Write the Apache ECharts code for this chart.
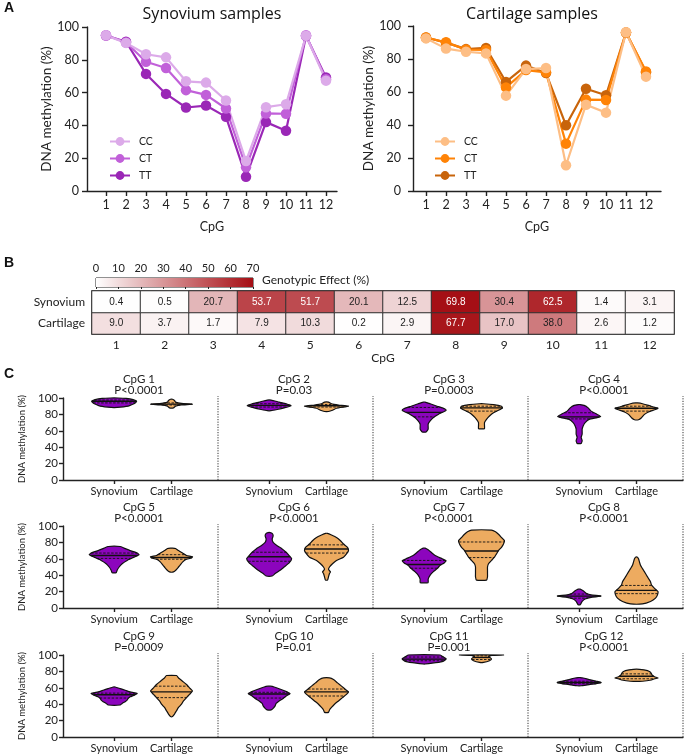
<!DOCTYPE html>
<html><head><meta charset="utf-8">
<script src="https://cdn.jsdelivr.net/npm/echarts@6/dist/echarts.min.js"></script>
<style>html,body{margin:0;padding:0;background:#fff}#c{width:685px;height:755px}</style>
</head><body><div id="c"></div>
<script>
// ---------- DATA ----------
const cpgs = [1,2,3,4,5,6,7,8,9,10,11,12];
const genotypes = ['CC','CT','TT'];
const synCC  = [94.9,90.3,83.4,81.5,66.9,66.1,55.2,18.3,51.1,52.9,94.7,67.3];
const synCT  = [95.0,90.5,78.8,75.0,61.5,58.6,50.3,14.5,47.3,47.1,95.0,68.2];
const synTT  = [94.8,91.0,71.4,59.2,50.9,52.1,45.2,8.7,42.0,36.7,94.5,69.2];
const cartCC = [92.5,86.3,84.4,83.4,57.8,73.9,74.5,15.6,52.3,47.5,96.2,69.3];
const cartCT = [93.0,90.1,85.7,85.5,62.8,73.3,71.9,28.7,55.4,55.2,96.0,72.5];
const cartTT = [93.0,89.9,86.0,86.7,66.1,76.0,71.5,39.8,62.0,58.0,96.0,72.0];

const tissues = ['Synovium','Cartilage'];
const effectSyn  = [0.4,0.5,20.7,53.7,51.7,20.1,12.5,69.8,30.4,62.5,1.4,3.1];
const effectCart = [9.0,3.7,1.7,7.9,10.3,0.2,2.9,67.7,17.0,38.0,2.6,1.2];
const effectTicks = [0,10,20,30,40,50,60,70];

const pLabels = ['P<0.0001','P=0.03','P=0.0003','P<0.0001','P<0.0001','P<0.0001',
                 'P<0.0001','P<0.0001','P=0.0009','P=0.01','P=0.001','P<0.0001'];
// violin profiles: [methylation %, relative half-width (density)]
const synProfiles = [
  [[88.5,3],[90,14],[92,18],[94,21],[96,22.5],[98,19],[99.5,12],[100,4]],
  [[84.5,2],[86,8],[88,15],[90.5,22],[93,17],[95,10],[97.5,2]],
  [[58.5,2],[62,4],[68,4],[72,6],[76,9],[80,14],[83,19],[85,22],[87,20],[90,13],[93,6],[95,1]],
  [[44.5,2],[48,3],[52,2],[56,3],[62,3],[66,4],[70,6],[74,10],[76,18],[77.5,21.5],[80,18],[84,12],[88,9],[91,5],[92,1]],
  [[43,2],[46,3],[50,5],[54,8],[58,13],[62,20],[65,25],[67,23],[70,16],[73,10],[75,6]],
  [[39,3],[42,6],[46,11],[50,15],[55,20],[60,22.5],[64,20],[68,17],[72,13],[76,8],[80,4],[84,3],[88,4],[91,3],[92,1]],
  [[31,4],[35,4],[40,6],[44,9],[48,13],[52,16],[55,20],[57.5,22],[60,18],[64,11],[68,7],[71,4],[73,1]],
  [[4,1],[8,3],[11,6],[13,12],[14.5,22],[16,12],[18,7],[21,4],[23,1]],
  [[39,6],[41,8],[43,11],[45,13],[47,14],[49,16],[51,20],[53,23],[55,16],[57,11],[59,6],[61,1]],
  [[33,2],[35,4],[38,6],[41,7],[44,10],[47,14],[50,17],[53,21],[55,18],[58,12],[61,5],[62,1]],
  [[89,1],[90,8],[92,18],[94,21],[95.5,22],[97,20],[98.5,18],[100,16]],
  [[62.5,2],[63.5,8],[65,17],[66.5,22],[68,17],[70,10],[72,4],[72.5,1]]
];
const synQuartiles = [
  [94,96,97.5],[89,91,93],[77,82.5,88.5],[74.5,77,82],[60.5,64,67],[57,62.5,68],
  [48.5,53,58],[12,14.5,17],[47.5,51.5,53.5],[47.5,52.5,54.5],[93,95,97.5],[65,66.5,68]
];
const cartProfiles = [
  [[88,2],[90,4],[91.5,10],[92.5,21],[93.5,10],[95,4],[97,3],[98.5,1]],
  [[83.5,2],[85,6],[87.5,10],[90,22],[91.5,12],[93,5],[95,2]],
  [[62.5,3],[66,3],[70,3],[74,5],[78,8],[82,12],[85,17],[88,21],[90,20],[92,12],[93,2]],
  [[73.5,2],[76,5],[80,8],[83,12],[86,19],[87.5,21.5],[89,17],[91,12],[93,6],[94,1]],
  [[44,2],[47,5],[50,7],[53,9],[56,11],[59,14],[61,20],[62.5,21],[64,15],[67,11],[70,7],[72.5,4],[73,1]],
  [[34,1],[38,2],[42,3],[44,4],[47,2],[50,3],[54,6],[58,10],[62,17],[66,20],[70,22],[74,21],[78,17],[82,14],[86,10],[89,5],[91,1]],
  [[34,5],[38,6],[42,6],[46,6],[50,6],[54,7],[58,10],[62,13],[66,15],[70,17],[74,20],[78,22],[82,23],[86,20],[90,17],[93,14],[95,10]],
  [[5,6],[8,14],[12,19],[16,21],[20,21.5],[24,18],[28,15],[32,14],[36,12],[40,10],[44,8],[48,6],[52,4],[56,3],[60,2],[62,1]],
  [[25,1],[28,3],[32,5],[36,7],[40,10],[44,12],[48,15],[52,18],[56,21],[60,18],[64,15],[68,11],[72,7],[75,5]],
  [[30,2],[33,3],[36,5],[40,8],[44,12],[48,16],[52,20],[55,22],[58,19],[62,15],[66,11],[70,7],[72,3]],
  [[91,2],[93,8],[95,10],[96.5,9],[98,7],[99.5,10],[100,22]],
  [[68,6],[69.5,15],[71,18],[72,21.7],[73.5,18],[75,16],[77,15],[79,14],[81,11],[82.5,3]]
];
const cartQuartiles = [
  [91.5,92.5,94],[89,90.5,92],[84,88,90],[84,87.5,90],[59.5,61.5,65],[67,72,77],
  [61.5,69.5,80.5],[17.5,21.5,27.5],[48,55,62],[50,55,58.5],[94.5,97,99],[71,74,77]
];

// ---------- STYLE / LAYOUT ----------
const FONT = 'Lato';
const TXT = '#222';
const synColors  = ['#dcaae9','#c160d9','#9a27b6'];
const cartColors = ['#fdbe85','#ff8306','#c8640b'];
const heatColors = ['#ffffff','#e0adaf','#c45c60','#a50e14'];
const SYN_FILL = '#8c05bd', CART_FILL = '#edab60';
const SYN_POS = 0.33, CART_POS = 0.70, WS = 1/155;
const rowTops = [398, 526, 655], ROW_H = 82;

const chart = echarts.init(document.getElementById('c'));

const grids = [
  {left:87, top:27, width:250, height:164},   // 0 A left
  {left:413, top:26, width:248, height:165},  // 1 A right
  {left:96, top:278, width:157, height:9, show:true, borderColor:'#222', borderWidth:1}, // 2 colorbar
  {left:92, top:291, width:582, height:43, show:true, borderColor:'#222', borderWidth:1.5}, // 3 heatmap
];
rowTops.forEach(t => grids.push({left:63, top:t, width:620, height:ROW_H}));

const axLine = {show:true, lineStyle:{color:TXT, width:1.4}};
function lineX(min, max) {
  return {type:'value', min, max, axisLine:axLine, splitLine:{show:false},
    axisTick:{show:true, customValues:cpgs, length:5, lineStyle:{color:TXT,width:1.4}},
    axisLabel:{customValues:cpgs, fontFamily:FONT, fontSize:12.5, color:TXT, margin:7},
    name:'CpG', nameLocation:'middle', nameGap:29, nameTextStyle:{fontFamily:FONT, fontSize:12.5, color:TXT}};
}
function lineY(margin, gap) {
  return {type:'value', min:0, max:100, interval:20, axisLine:axLine, splitLine:{show:false},
    axisTick:{show:true, length:5, lineStyle:{color:TXT,width:1.4}},
    axisLabel:{fontFamily:FONT, fontSize:12.5, color:TXT, margin},
    name:'DNA methylation (%)', nameLocation:'middle', nameGap:gap,
    nameTextStyle:{fontFamily:FONT, fontSize:13.5, color:TXT}};
}
const xAxes = [
  Object.assign(lineX(0.05, 12.55), {gridIndex:0}),
  Object.assign(lineX(0.35, 12.75), {gridIndex:1}),
  {gridIndex:2, type:'value', min:0, max:70, interval:10, position:'top',
   axisLine:{show:false}, splitLine:{show:false},
   axisTick:{show:true, inside:true, length:2, lineStyle:{color:'#222'}},
   axisLabel:{customValues:effectTicks, fontFamily:FONT, fontSize:11, color:TXT, margin:4}},
  {gridIndex:3, type:'category', data:cpgs.map(String), axisLine:{show:false}, axisTick:{show:false},
   axisLabel:{fontFamily:FONT, fontSize:12, color:TXT, margin:5},
   name:'CpG', nameLocation:'middle', nameGap:17, nameTextStyle:{fontFamily:FONT, fontSize:12, color:TXT}},
];
const yAxes = [
  Object.assign(lineY(8, 23), {gridIndex:0}),
  Object.assign(lineY(12, 29), {gridIndex:1}),
  {gridIndex:2, type:'value', min:0, max:1, show:false},
  {gridIndex:3, type:'category', data:['Cartilage','Synovium'], axisLine:{show:false}, axisTick:{show:false},
   axisLabel:{fontFamily:FONT, fontSize:12, color:TXT, margin:7}},
];
const rowTickVals = [];
for (let k = 0; k < 4; k++) { rowTickVals.push(k + SYN_POS, k + CART_POS); }
rowTops.forEach((t, r) => {
  xAxes.push({gridIndex:4+r, type:'value', min:0, max:4, axisLine:axLine, splitLine:{show:false},
    axisTick:{show:true, customValues:rowTickVals, length:4, lineStyle:{color:TXT,width:1.4}},
    axisLabel:{customValues:rowTickVals, fontFamily:FONT, fontSize:11, color:TXT, margin:6,
      formatter: v => ((v % 1) < 0.5 ? tissues[0] : tissues[1])}});
  yAxes.push({gridIndex:4+r, type:'value', min:0, max:100, interval:20, axisLine:axLine, splitLine:{show:false},
    axisTick:{show:true, length:4, lineStyle:{color:TXT,width:1.4}},
    axisLabel:{fontFamily:FONT, fontSize:11.5, color:TXT, margin:5},
    name:'DNA methylation (%)', nameLocation:'middle', nameGap:23,
    nameTextStyle:{fontFamily:FONT, fontSize:9.5, color:TXT}});
});

const series = [];
// Panel A lines (TT first so CC is drawn on top)
const synSets = [synCC, synCT, synTT], cartSets = [cartCC, cartCT, cartTT];
[2,1,0].forEach(g => {
  series.push({type:'line', name:genotypes[g], xAxisIndex:0, yAxisIndex:0,
    data:cpgs.map((c,i)=>[c, synSets[g][i]]), symbol:'circle', symbolSize:10.5,
    itemStyle:{color:synColors[g]}, lineStyle:{color:synColors[g], width:2.2}});
});
[2,1,0].forEach(g => {
  series.push({type:'line', name:genotypes[g], xAxisIndex:1, yAxisIndex:1,
    data:cpgs.map((c,i)=>[c, cartSets[g][i]]), symbol:'circle', symbolSize:10.5,
    itemStyle:{color:cartColors[g]}, lineStyle:{color:cartColors[g], width:2.2}});
});
// Colorbar
series.push({type:'custom', xAxisIndex:2, yAxisIndex:2, silent:true, data:[[0,70]],
  renderItem:(p, api) => {
    const a = api.coord([api.value(0), 0]), b = api.coord([api.value(1), 1]);
    return {type:'rect', shape:{x:a[0], y:b[1], width:b[0]-a[0], height:a[1]-b[1]},
      style:{fill:new echarts.graphic.LinearGradient(0,0,1,0,
        heatColors.map((c,i)=>({offset:i/(heatColors.length-1), color:c})))}};
  }});
// Heatmap
const heatData = [];
[effectCart, effectSyn].forEach((arr, r) => arr.forEach((v, i) => {
  heatData.push({value:[i, r, v], label:{color: v > 45 ? '#ffffff' : '#222'}});
}));
const heatIndex = series.length;
series.push({type:'heatmap', xAxisIndex:3, yAxisIndex:3, data:heatData,
  itemStyle:{borderColor:'#333', borderWidth:1},
  label:{show:true, fontFamily:'Liberation Sans', fontSize:10, formatter:p => p.value[2].toFixed(1)},
  emphasis:{disabled:true}});

// Violins
function widthAt(prof, v) {
  if (v <= prof[0][0]) return prof[0][1];
  for (let j = 1; j < prof.length; j++) {
    if (v <= prof[j][0]) {
      const t = (v - prof[j-1][0]) / (prof[j][0] - prof[j-1][0]);
      return prof[j-1][1] + t * (prof[j][1] - prof[j-1][1]);
    }
  }
  return prof[prof.length-1][1];
}
function violinRender(p, api) {
  const k = api.value(0), g = api.value(1), idx = api.value(2);
  const prof = g === 0 ? synProfiles[idx] : cartProfiles[idx];
  const q = g === 0 ? synQuartiles[idx] : cartQuartiles[idx];
  const cx = k + (g === 0 ? SYN_POS : CART_POS);
  const pts = [];
  prof.forEach(([v, w]) => pts.push(api.coord([cx + w*WS, v])));
  for (let j = prof.length-1; j >= 0; j--) pts.push(api.coord([cx - prof[j][1]*WS, prof[j][0]]));
  const children = [{type:'polygon', shape:{points:pts, smooth:0.15},
    style:{fill: g === 0 ? SYN_FILL : CART_FILL, stroke:'#111', lineWidth:1.2}}];
  q.forEach((v, qi) => {
    const w = widthAt(prof, v) * WS;
    const a = api.coord([cx - w, v]), b = api.coord([cx + w, v]);
    children.push({type:'line', shape:{x1:a[0], y1:a[1], x2:b[0], y2:b[1]},
      style:{stroke:'#111', lineWidth: qi === 1 ? 1.4 : 0.9, lineDash: qi === 1 ? null : [2.5, 1.5]}});
  });
  return {type:'group', children};
}
function dividerRender(p, api) {
  const a = api.coord([api.value(0), 0]), b = api.coord([api.value(0), 100]);
  return {type:'line', shape:{x1:a[0], y1:a[1], x2:b[0], y2:b[1]-2},
    style:{stroke:'#333', lineWidth:1, lineDash:[1.2, 1.4]}};
}
rowTops.forEach((t, r) => {
  const vdata = [];
  for (let k = 0; k < 4; k++) {
    const idx = r*4 + k;
    vdata.push([k, 0, idx], [k, 1, idx]);
  }
  series.push({type:'custom', xAxisIndex:4+r, yAxisIndex:4+r, silent:true, clip:false,
    data:[[1],[2],[3],[4]], renderItem:dividerRender});
  series.push({type:'custom', xAxisIndex:4+r, yAxisIndex:4+r, silent:true, clip:false,
    data:vdata, renderItem:violinRender});
});

// Texts
const graphics = [
  {type:'text', x:4, y:1, style:{text:'A', font:'bold 14px Liberation Sans', fill:'#111'}},
  {type:'text', x:4, y:256, style:{text:'B', font:'bold 14px Liberation Sans', fill:'#111'}},
  {type:'text', x:4, y:367, style:{text:'C', font:'bold 14px Liberation Sans', fill:'#111'}},
  {type:'text', x:212, y:6, style:{text:'Synovium samples', font:'16px Open Sans', fill:'#111', textAlign:'center'}},
  {type:'text', x:532, y:6, style:{text:'Cartilage samples', font:'16px Open Sans', fill:'#111', textAlign:'center'}},
  {type:'text', x:262, y:274, style:{text:'Genotypic Effect (%)', font:'12px '+FONT, fill:TXT}},
];
const titleTops = [374, 502, 631];
cpgs.forEach((c, i) => {
  const r = Math.floor(i/4), k = i % 4;
  graphics.push({type:'text', x:63 + 155*(k+0.49), y:titleTops[r],
    style:{text:'CpG ' + c + '\n' + pLabels[i], font:'11.5px '+FONT, lineHeight:11, fill:TXT, textAlign:'center'}});
});

chart.setOption({
  animation:false,
  grid:grids, xAxis:xAxes, yAxis:yAxes, series,
  visualMap:{show:false, type:'continuous', min:0, max:70, dimension:2, seriesIndex:heatIndex,
    inRange:{color:heatColors}},
  legend:[
    {orient:'vertical', left:104, top:131, itemWidth:20, itemHeight:11, itemGap:6,
     textStyle:{fontFamily:FONT, fontSize:10.5, color:TXT, padding:[0,0,0,4]},
     data:genotypes.map((n,g)=>({name:n, itemStyle:{color:synColors[g]}, lineStyle:{color:synColors[g]}})),
     selectedMode:false},
    {orient:'vertical', left:429, top:131, itemWidth:20, itemHeight:11, itemGap:6,
     textStyle:{fontFamily:FONT, fontSize:10.5, color:TXT, padding:[0,0,0,4]},
     data:genotypes.map((n,g)=>({name:n, itemStyle:{color:cartColors[g]}, lineStyle:{color:cartColors[g]}})),
     selectedMode:false}
  ],
  graphic:graphics
});
</script></body></html>
